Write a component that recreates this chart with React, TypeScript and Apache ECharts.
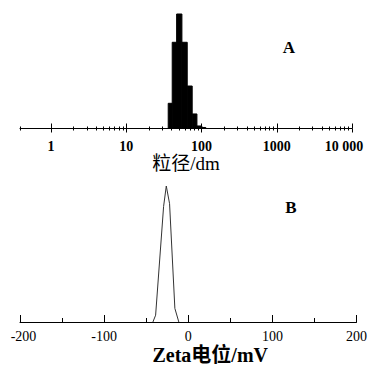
import React, { useEffect, useRef } from "react";
import * as echarts from "echarts";

// Particle size distribution (histogram bins, size in dm, relative intensity)
const sizeBinEdges = [36.1, 40.8, 46.7, 54.9, 64.6, 75.2, 86.9, 101, 114];
const sizeBinHeights = [22, 75.3, 100, 75.3, 37.1, 12.7, 2.2, 0.9];
const sizeTickValues = [1, 10, 100, 1000, 10000];
const sizeTickLabels = ["1", "10", "100", "1000", "10 000"];
const sizeMinorValues = [2, 3, 4, 5, 6, 7, 8, 9, 20, 30, 40, 50, 60, 70, 80, 90, 200, 300, 400, 500, 600, 700, 800, 900, 2000, 3000, 4000, 5000, 6000, 7000, 8000, 9000];
const sizeMin = 0.387;
const sizeMax = 10000;

// Zeta potential distribution
const zetaValues = [-42, -38.8, -29.3, -26.1, -22.2, -15.9, -11.2];
const zetaIntensity = [0, 5, 85, 100, 87, 10, 0];

const serif = "'Liberation Serif', 'Times New Roman', serif";
const mixed = "'Liberation Serif', 'Noto Sans CJK SC', serif";

export default function App() {
  const ref = useRef<HTMLDivElement>(null);
  useEffect(() => {
    if (!ref.current) return;
    const chart = echarts.init(ref.current, null, { renderer: "svg" });
    const lmin = Math.log10(sizeMin);
    const lmax = Math.log10(sizeMax);
    const majorLog = sizeTickValues.map((v) => Math.log10(v));
    const minorLog = [lmin, ...sizeMinorValues.map((v) => Math.log10(v))];
    const topGrid = { left: 20, top: 14, width: 332, height: 114.5 };
    const bins = sizeBinHeights.map((h, i) => [
      Math.log10(sizeBinEdges[i]),
      Math.log10(sizeBinEdges[i + 1]),
      h,
    ]);
    const hiddenY = (gridIndex: number, max: number) => ({
      type: "value",
      gridIndex,
      min: 0,
      max,
      show: false,
    });
    const tickAxis = (gridIndex: number, values: number[], inside: boolean, length: number) => ({
      type: "value",
      gridIndex,
      min: lmin,
      max: lmax,
      axisLine: { show: false },
      axisLabel: { show: false },
      splitLine: { show: false },
      axisTick: {
        show: true,
        inside,
        length,
        customValues: values,
        lineStyle: { color: "#000", width: 1 },
      },
    });
    const option: any = {
      animation: false,
      backgroundColor: "#fff",
      grid: [
        { ...topGrid },
        { ...topGrid },
        { ...topGrid },
        { ...topGrid },
        { left: 20, top: 186, width: 336.7, height: 137.3 },
      ],
      xAxis: [
        {
          type: "value",
          gridIndex: 0,
          min: lmin,
          max: lmax,
          axisLine: { show: true, onZero: false, lineStyle: { color: "#000", width: 1 } },
          splitLine: { show: false },
          axisTick: {
            show: true,
            inside: true,
            length: 5,
            customValues: majorLog,
            lineStyle: { color: "#000", width: 1 },
          },
          axisLabel: {
            customValues: majorLog,
            margin: 11,
            color: "#000",
            fontFamily: serif,
            fontWeight: "bold",
            fontSize: 14,
            formatter: (v: number) => {
              const i = Math.round(v);
              return i === 4 ? "{r|" + sizeTickLabels[i] + "}" : sizeTickLabels[i];
            },
            rich: {
              r: { fontFamily: serif, fontWeight: "bold", fontSize: 14, color: "#000", padding: [0, 16, 0, 0] },
            },
          },
          name: "粒径/dm",
          nameLocation: "middle",
          nameGap: 24,
          nameTextStyle: { fontFamily: mixed, fontSize: 19, color: "#000" },
        },
        tickAxis(1, majorLog, false, 4),
        tickAxis(2, minorLog, true, 2),
        tickAxis(3, minorLog, false, 2),
        {
          type: "value",
          gridIndex: 4,
          min: -200,
          max: 200,
          interval: 100,
          axisLine: { show: true, onZero: false, lineStyle: { color: "#000", width: 1 } },
          splitLine: { show: false },
          axisTick: { show: true, inside: true, length: 7, lineStyle: { color: "#000", width: 1 } },
          minorTick: { show: true, splitNumber: 2, length: 4, lineStyle: { color: "#000", width: 1 } },
          axisLabel: {
            margin: 7,
            color: "#000",
            fontFamily: serif,
            fontSize: 14,
            formatter: (v: number) => (v === -200 ? "{l|" + v + "}" : String(v)),
            rich: {
              l: { fontFamily: serif, fontSize: 14, color: "#000", padding: [0, 0, 0, 7] },
            },
          },
          name: "Zeta电位/mV",
          nameLocation: "middle",
          nameGap: 23,
          nameTextStyle: {
            fontFamily: mixed,
            fontSize: 20,
            fontWeight: "bold",
            color: "#000",
            padding: [0, 0, 0, 44],
          },
        },
      ],
      yAxis: [hiddenY(0, 100), hiddenY(1, 100), hiddenY(2, 100), hiddenY(3, 100), hiddenY(4, 100)],
      series: [
        {
          type: "custom",
          xAxisIndex: 0,
          yAxisIndex: 0,
          data: bins,
          encode: { x: [0, 1], y: 2 },
          renderItem: (_params: any, api: any) => {
            const p0 = api.coord([api.value(0), api.value(2)]);
            const p1 = api.coord([api.value(1), 0]);
            return {
              type: "rect",
              shape: { x: p0[0], y: p0[1], width: p1[0] - p0[0], height: p1[1] - p0[1] },
              style: { fill: "#000", stroke: "#000", lineWidth: 1 },
            };
          },
        },
        {
          type: "line",
          xAxisIndex: 4,
          yAxisIndex: 4,
          data: zetaValues.map((v, i) => [v, zetaIntensity[i]]),
          showSymbol: false,
          symbol: "none",
          lineStyle: { color: "#333", width: 1 },
        },
      ],
      graphic: [
        {
          type: "text",
          x: 289,
          y: 47,
          style: {
            text: "A",
            fontFamily: serif,
            fontWeight: "bold",
            fontSize: 17,
            fill: "#000",
            align: "center",
            verticalAlign: "middle",
          },
        },
        {
          type: "text",
          x: 291,
          y: 207.5,
          style: {
            text: "B",
            fontFamily: serif,
            fontWeight: "bold",
            fontSize: 17,
            fill: "#000",
            align: "center",
            verticalAlign: "middle",
          },
        },
      ],
    };
    chart.setOption(option);
    return () => chart.dispose();
  }, []);
  return (
    <div
      ref={ref}
      style={{ position: "fixed", left: 0, top: 0, width: 370, height: 366, background: "#fff" }}
    />
  );
}
